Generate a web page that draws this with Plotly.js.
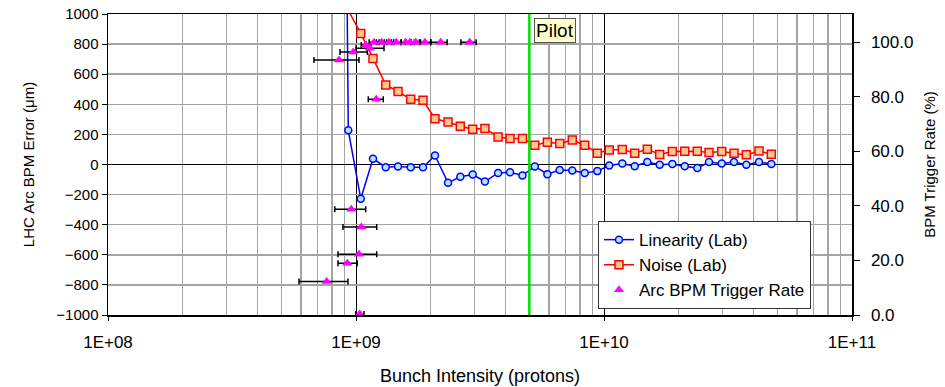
<!DOCTYPE html>
<html>
<head>
<meta charset="utf-8">
<script src="https://cdn.plot.ly/plotly-3.0.1.min.js"></script>
<style>html,body{margin:0;padding:0;background:#fff;}#chart{width:945px;height:387px;}</style>
</head>
<body>
<div id="chart"></div>
<script>
// Linearity (Lab): bunch intensity (protons) and BPM error (µm)
const linX = [9.2e8, 9.31e8, 1.045e9, 1.171e9, 1.318e9, 1.477e9, 1.662e9, 1.863e9, 2.082e9, 2.35e9, 2.634e9, 2.955e9, 3.31e9, 3.74e9, 4.18e9, 4.69e9, 5.26e9, 5.91e9, 6.63e9, 7.45e9, 8.36e9, 9.40e9, 1.05e10, 1.185e10, 1.33e10, 1.495e10, 1.677e10, 1.886e10, 2.116e10, 2.378e10, 2.651e10, 2.983e10, 3.344e10, 3.748e10, 4.217e10, 4.727e10];
const linY = [1150, 227, -227, 38, -18, -13, -18, -18, 60, -122, -82, -67, -113, -56, -51, -73, -13, -64, -36, -40, -56, -44, -7, 7, -11, 16, -2, 4, -11, -24, 16, 7, 16, -2, 16, 4];

// Noise (Lab)
const noiseX = [9.2e8, 1.045e9, 1.171e9, 1.318e9, 1.477e9, 1.662e9, 1.863e9, 2.082e9, 2.35e9, 2.634e9, 2.955e9, 3.31e9, 3.74e9, 4.18e9, 4.69e9, 5.26e9, 5.91e9, 6.63e9, 7.45e9, 8.36e9, 9.40e9, 1.05e10, 1.185e10, 1.33e10, 1.495e10, 1.677e10, 1.886e10, 2.116e10, 2.378e10, 2.651e10, 2.983e10, 3.344e10, 3.748e10, 4.217e10, 4.727e10];
const noiseY = [1040, 871, 705, 529, 485, 433, 427, 304, 282, 254, 235, 240, 183, 172, 172, 128, 148, 139, 163, 128, 75, 97, 99, 75, 102, 66, 86, 88, 88, 79, 86, 75, 64, 90, 68];

// Arc BPM Trigger Rate (%) with intensity range (low/high)
const trigX  = [7.62e8, 9.22e8, 1.028e9, 1.051e9, 9.57e8, 1.035e9, 1.207e9, 8.54e8, 9.75e8, 1.139e9, 1.097e9, 1.182e9, 1.269e9, 1.359e9, 1.454e9, 1.586e9, 1.651e9, 1.741e9, 1.897e9, 2.195e9, 2.874e9];
const trigY  = [12.3, 19.0, 22.3, 32.3, 38.8, 0.4, 79.1, 93.5, 96.5, 97.8, 99.0, 100, 100, 100, 100, 100, 100, 100, 100, 100, 100];
const trigLo = [5.89e8, 8.46e8, 8.46e8, 8.86e8, 8.21e8, 9.97e8, 1.121e9, 6.77e8, 8.62e8, 1.0e9, 1.05e9, 1.13e9, 1.21e9, 1.30e9, 1.39e9, 1.52e9, 1.58e9, 1.67e9, 1.80e9, 2.005e9, 2.649e9];
const trigHi = [9.28e8, 1.012e9, 1.212e9, 1.212e9, 1.094e9, 1.077e9, 1.288e9, 1.028e9, 1.111e9, 1.297e9, 1.15e9, 1.24e9, 1.33e9, 1.42e9, 1.52e9, 1.66e9, 1.72e9, 1.82e9, 2.00e9, 2.33e9, 3.05e9];

const pilotX = 5e9;
const xTickVals = [1e8, 1e9, 1e10, 1e11];
const xTickText = ['1E+08', '1E+09', '1E+10', '1E+11'];
const yTickVals = [-1000, -800, -600, -400, -200, 0, 200, 400, 600, 800, 1000];
const y2TickVals = [0, 20, 40, 60, 80, 100];

const minorVals = [];
for (const d of [1e8, 1e9, 1e10]) for (let k = 2; k <= 9; k++) minorVals.push(k * d);

const FONT = 'Liberation Sans, Arial, sans-serif';

const traces = [
  {
    x: linX, y: linY, name: 'Linearity (Lab)', type: 'scatter', mode: 'lines+markers',
    line: {color: '#0000ff', width: 1.5},
    marker: {symbol: 'circle', size: 7, color: '#aee6ff', line: {color: '#0000ff', width: 1.5}}
  },
  {
    x: noiseX, y: noiseY, name: 'Noise (Lab)', type: 'scatter', mode: 'lines+markers',
    line: {color: '#ff0000', width: 1.5},
    marker: {symbol: 'square', size: 8, color: '#ffc890', line: {color: '#ff0000', width: 1.5}}
  },
  {
    x: trigX, y: trigY, name: 'Arc BPM Trigger Rate', type: 'scatter', mode: 'markers', yaxis: 'y2',
    marker: {symbol: 'triangle-up', size: 9, color: '#ff00ff'},
    error_x: {
      type: 'data', symmetric: false,
      array: trigX.map((v, i) => trigHi[i] - v),
      arrayminus: trigX.map((v, i) => v - trigLo[i]),
      color: '#000000', thickness: 1.5, width: 3
    }
  }
];

const layout = {
  width: 945, height: 387,
  margin: {l: 108, r: 93, t: 14, b: 72},
  paper_bgcolor: '#ffffff', plot_bgcolor: '#ffffff',
  font: {family: FONT, size: 15, color: '#000'},
  showlegend: true,
  legend: {
    x: 0.6586, y: 0.312, xanchor: 'left', yanchor: 'top',
    bgcolor: '#ffffff', bordercolor: '#333333', borderwidth: 1,
    font: {family: FONT, size: 17, color: '#000'},
    tracegroupgap: 0
  },
  xaxis: {
    type: 'log', range: [8, 11],
    tickmode: 'array', tickvals: xTickVals, ticktext: xTickText,
    showgrid: true, gridcolor: '#000000', gridwidth: 1,
    minor: {tickmode: 'array', tickvals: minorVals, showgrid: true, gridcolor: '#a4a4a4', gridwidth: 1.5, ticks: ''},
    ticks: 'outside', ticklen: 4, tickcolor: '#000', ticklabelstandoff: 7,
    showline: true, linecolor: '#000', linewidth: 1.5, mirror: true,
    zeroline: false,
    tickfont: {family: FONT, size: 17},
    title: {text: 'Bunch Intensity (protons)', font: {family: FONT, size: 18}, standoff: 18}
  },
  yaxis: {
    range: [-1000, 1000],
    tickmode: 'array', tickvals: yTickVals,
    showgrid: true, gridcolor: '#a4a4a4', gridwidth: 1.5,
    zeroline: true, zerolinecolor: '#000000', zerolinewidth: 1.5,
    ticks: 'outside', ticklen: 5, tickcolor: '#000',
    showline: true, linecolor: '#000', linewidth: 1.5, mirror: true,
    tickfont: {family: FONT, size: 15},
    title: {text: 'LHC Arc BPM Error (μm)', font: {family: FONT, size: 15}, standoff: 18}
  },
  yaxis2: {
    overlaying: 'y', side: 'right', range: [0, 110.4],
    tickmode: 'array', tickvals: y2TickVals, tickformat: '.1f',
    showgrid: false, zeroline: false,
    ticks: 'outside', ticklen: 6, tickcolor: '#000', ticklabelstandoff: 8,
    showline: true, linecolor: '#000', linewidth: 1.5,
    tickfont: {family: FONT, size: 17},
    title: {text: 'BPM Trigger Rate (%)', font: {family: FONT, size: 15}, standoff: 12}
  },
  shapes: [
    {type: 'line', xref: 'x', yref: 'paper', x0: pilotX, x1: pilotX, y0: 0, y1: 1,
     line: {color: '#00e000', width: 2.5}, layer: 'above'}
  ],
  annotations: [
    {x: Math.log10(pilotX), xref: 'x', y: 1, yref: 'paper', yanchor: 'top', xanchor: 'left',
     xshift: 5, yshift: -4, text: 'Pilot', showarrow: false,
     font: {family: FONT, size: 19, color: '#000'},
     bgcolor: '#ffffcc', bordercolor: '#555555', borderwidth: 1, borderpad: 1}
  ]
};

Plotly.newPlot('chart', traces, layout, {displayModeBar: false, staticPlot: true});
</script>
</body>
</html>
